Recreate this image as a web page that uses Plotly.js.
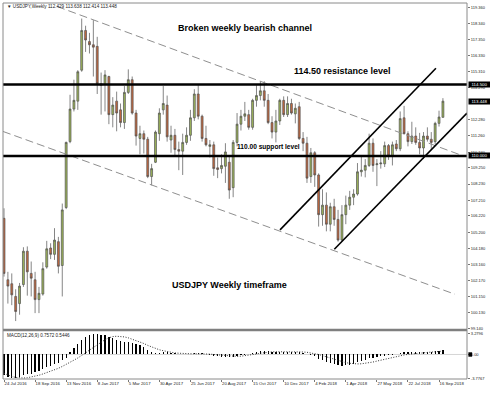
<!DOCTYPE html>
<html>
<head>
<meta charset="utf-8">
<script src="https://cdn.plot.ly/plotly-3.0.1.min.js"></script>
<style>
  html, body { margin: 0; padding: 0; background: #fff; }
  #chart { width: 490px; height: 393px; }
</style>
</head>
<body>
<div id="chart"></div>
<script>
// USDJPY weekly candles, 24 Jul 2016 .. 23 Sep 2018 (one entry per week)
const tickLabels = ['24 Jul 2016', '18 Sep 2016', '13 Nov 2016', '8 Jan 2017', '5 Mar 2017',
  '30 Apr 2017', '25 Jun 2017', '20 Aug 2017', '15 Oct 2017', '10 Dec 2017', '4 Feb 2018',
  '1 Apr 2018', '27 May 2018', '22 Jul 2018', '16 Sep 2018'];
const tickEvery = 8; // one date label every eight weekly bars

const open = [
  106.07, 102.2, 101.95, 101.15, 100.7, 101.9, 104.0, 102.6, 102.2, 100.95,
  101.3, 103.0, 104.2, 103.8, 104.6, 103.1, 106.75, 110.9, 112.95, 113.45,
  115.4, 117.9, 117.2, 117.0, 116.9, 114.55, 114.5, 115.0, 112.6, 113.45,
  112.9, 112.1, 114.0, 114.8, 112.7, 111.1, 111.4, 111.05, 108.7, 109.6,
  111.4, 112.9, 113.2, 111.0, 111.3, 110.4, 110.3, 110.85, 111.3, 112.4,
  113.9, 112.5, 111.1, 110.6, 110.7, 109.25, 109.2, 109.35, 109.6, 108.0,
  110.85, 112.0, 112.5, 112.6, 111.8, 113.5, 113.8, 114.1, 113.5, 112.1,
  111.5, 112.2, 113.5, 112.6, 113.3, 112.65, 113.1, 111.1, 110.8, 108.7,
  110.2, 108.8, 106.3, 106.9, 105.7, 106.8, 106.0, 104.7, 106.3, 106.9,
  107.4, 107.6, 109.0, 109.1, 109.4, 110.8, 109.45, 109.5, 109.5, 110.65,
  110.0, 110.75, 110.45, 112.4, 111.4, 110.9, 111.25, 110.85, 110.5, 111.25,
  111.05, 110.9, 112.05, 112.429];
const high = [
  106.7, 102.7, 102.6, 101.6, 102.0, 104.25, 104.3, 103.35, 102.7, 101.75,
  103.3, 104.65, 104.5, 105.45, 104.9, 107.0, 110.9, 113.85, 114.8, 115.4,
  118.65, 118.2, 117.75, 118.55, 117.5, 115.25, 115.4, 115.05, 113.7, 114.05,
  113.3, 114.4, 115.45, 115.0, 112.9, 111.9, 111.6, 111.2, 109.5, 111.6,
  113.0, 114.4, 113.8, 111.9, 111.7, 110.9, 111.4, 111.8, 112.9, 114.2,
  114.45, 112.6, 111.9, 111.0, 110.9, 109.9, 110.1, 110.8, 110.0, 111.0,
  112.7, 112.9, 113.4, 112.9, 113.6, 114.45, 114.7, 114.7, 113.9, 112.5,
  112.9, 113.6, 113.75, 113.75, 113.6, 113.3, 113.4, 111.5, 111.2, 110.5,
  110.3, 108.9, 107.9, 107.7, 107.05, 107.3, 106.6, 106.9, 107.5, 107.8,
  107.9, 109.55, 110.0, 109.8, 111.4, 111.1, 109.8, 110.3, 110.9, 110.75,
  110.9, 111.0, 112.8, 113.15, 111.55, 112.15, 111.8, 111.45, 111.5, 111.8,
  111.5, 112.15, 112.85, 113.638];
const low = [
  102.4, 100.7, 100.6, 99.6, 100.0, 101.75, 101.2, 101.15, 100.1, 100.1,
  101.2, 102.9, 103.5, 103.45, 102.6, 101.15, 106.65, 110.8, 112.8, 112.9,
  115.3, 116.55, 116.45, 115.0, 113.9, 112.6, 112.8, 112.0, 111.8, 111.55,
  111.8, 111.7, 113.9, 112.6, 110.65, 110.1, 110.15, 108.6, 108.15, 109.55,
  110.95, 112.6, 110.9, 110.2, 110.0, 109.1, 108.8, 110.7, 110.95, 112.2,
  112.3, 110.9, 110.6, 109.9, 108.75, 108.6, 108.9, 108.3, 107.3, 107.4,
  110.6, 111.6, 112.2, 111.65, 111.65, 113.1, 113.5, 113.1, 112.0, 111.1,
  110.85, 111.95, 112.45, 112.45, 112.6, 112.05, 111.0, 110.3, 108.3, 108.3,
  108.05, 105.55, 105.6, 105.25, 105.25, 105.6, 104.6, 104.6, 105.7, 106.6,
  106.9, 107.5, 108.7, 108.65, 109.3, 109.0, 108.1, 109.2, 109.3, 109.75,
  109.4, 110.3, 110.3, 111.35, 110.6, 110.75, 110.7, 110.1, 109.8, 110.9,
  110.4, 110.75, 111.85, 112.414];
const close = [
  102.6, 101.8, 101.25, 100.2, 101.8, 104.0, 102.7, 102.3, 100.95, 101.35,
  102.9, 104.15, 103.8, 104.7, 103.05, 106.6, 110.85, 112.95, 113.5, 115.3,
  117.9, 117.3, 117.0, 116.85, 114.55, 114.45, 115.1, 112.6, 113.2, 112.7,
  112.1, 114.0, 114.8, 112.7, 111.25, 111.4, 111.05, 108.7, 109.2, 111.5,
  112.7, 113.3, 111.2, 111.3, 110.4, 110.3, 110.85, 111.3, 112.4, 113.9,
  112.5, 111.1, 110.7, 110.7, 109.2, 109.15, 109.4, 110.25, 107.85, 110.85,
  112.0, 112.5, 112.65, 111.8, 113.5, 113.8, 114.1, 113.5, 112.1, 111.5,
  112.2, 113.5, 112.6, 113.3, 112.7, 113.0, 111.1, 110.8, 108.6, 110.2,
  108.8, 106.3, 106.9, 105.7, 106.8, 106.0, 104.7, 106.3, 106.9, 107.4,
  107.6, 109.0, 109.1, 109.4, 110.8, 109.4, 109.5, 109.55, 110.65, 110.0,
  110.7, 110.45, 112.35, 111.4, 110.9, 111.25, 110.85, 110.5, 111.25, 111.05,
  110.85, 112.05, 112.45, 113.448];

// MACD(12,26,9): main histogram and signal line
const macdMain = [
  -3.29, -3.6, -3.72, -3.7767, -3.66, -3.3, -3.18, -3.03, -2.85, -2.62,
  -2.3, -1.98, -1.76, -1.5, -1.35, -0.92, -0.48, 0.37, 1.01, 1.6,
  2.28, 2.72, 3.03, 3.24, 3.2796, 3.15, 3.05, 2.78, 2.6, 2.36,
  2.14, 2.04, 2.02, 1.9, 1.7, 1.45, 1.12, 0.7, 0.33, 0.22,
  0.27, 0.37, 0.32, 0.27, 0.16, 0.06, 0.05, 0.07, 0.12, 0.22,
  0.27, 0.17, 0.06, -0.05, -0.16, -0.26, -0.32, -0.36, -0.42, -0.36,
  -0.27, -0.15, -0.05, 0.05, 0.25, 0.45, 0.6, 0.6, 0.5, 0.4,
  0.4, 0.45, 0.45, 0.46, 0.45, 0.45, 0.35, 0.2, 0.05, -0.05,
  -0.3, -0.65, -0.95, -1.2, -1.4, -1.55, -1.75, -1.8, -1.75, -1.6,
  -1.45, -1.2, -1.0, -0.82, -0.6, -0.5, -0.4, -0.3, -0.2, -0.12,
  -0.05, 0.05, 0.28, 0.36, 0.38, 0.4, 0.4, 0.38, 0.42, 0.45,
  0.45, 0.55, 0.63, 0.7572];
const macdSignal = [
  -3.0, -3.3, -3.5, -3.65, -3.75, -3.75, -3.7, -3.6, -3.45, -3.3,
  -3.1, -2.9, -2.7, -2.45, -2.2, -1.9, -1.6, -1.25, -0.9, -0.55,
  -0.2, 0.25, 0.7, 1.15, 1.6, 2.0, 2.35, 2.65, 2.85, 2.9,
  2.9, 2.8, 2.65, 2.45, 2.25, 2.0, 1.75, 1.45, 1.2, 0.95,
  0.75, 0.6, 0.45, 0.35, 0.25, 0.2, 0.15, 0.12, 0.12, 0.12,
  0.13, 0.12, 0.1, 0.06, 0.0, -0.07, -0.14, -0.2, -0.26, -0.3,
  -0.3, -0.27, -0.2, -0.12, -0.03, 0.08, 0.2, 0.3, 0.38, 0.42,
  0.44, 0.45, 0.45, 0.45, 0.45, 0.45, 0.43, 0.4, 0.35, 0.27,
  0.15, 0.0, -0.18, -0.38, -0.58, -0.78, -0.98, -1.15, -1.3, -1.4,
  -1.47, -1.5, -1.48, -1.42, -1.32, -1.2, -1.05, -0.9, -0.75, -0.6,
  -0.45, -0.32, -0.2, -0.08, 0.02, 0.1, 0.18, 0.25, 0.3, 0.35,
  0.39, 0.43, 0.49, 0.5446];

// right-hand price scale labels
const priceTicks = [119.36, 118.34, 117.35, 116.33, 115.31, 114.29, 112.28, 111.26, 110.24,
  109.25, 108.23, 107.21, 106.22, 105.2, 104.18, 103.16, 102.17, 101.15, 100.13, 99.14];
const macdTicks = [3.2796, 0, -3.7767];
const macdTickText = ['3.2796', '0.00', '-3.7767'];

// horizontal levels and drawn trendlines, as [week index, price]
const resistance = 114.50;
const support = 110.00;
const lastPrice = 113.448;
const bearUpper = [[13.65, 119.41], [117.9, 110.03]];
const bearLower = [[-0.26, 111.54], [116.1, 101.29]];
const bullUpper = [[71.06, 105.34], [111.2, 115.52]];
const bullLower = [[85.04, 104.12], [119.2, 112.70]];

const weekIdx = close.map((_, i) => i);
const FONT = 'Liberation Sans, Arial, sans-serif';

function segment(pts, color, width, dash) {
  return {
    type: 'scatter', mode: 'lines', xaxis: 'x', yaxis: 'y',
    x: pts.map(p => p[0]), y: pts.map(p => p[1]),
    line: { color: color, width: width, dash: dash },
    hoverinfo: 'skip'
  };
}

const traces = [
  segment(bearUpper, '#8f8f8f', 1, '8px,4px'),
  segment(bearLower, '#8f8f8f', 1, '8px,4px'),
  {
    type: 'candlestick', xaxis: 'x', yaxis: 'y',
    x: weekIdx, open: open, high: high, low: low, close: close,
    increasing: { fillcolor: '#9db55a', line: { color: '#505050', width: 0.7 } },
    decreasing: { fillcolor: '#c3683f', line: { color: '#505050', width: 0.7 } },
    whiskerwidth: 0, hoverinfo: 'none'
  },
  segment(bullUpper, '#000', 1.6, 'solid'),
  segment(bullLower, '#000', 1.6, 'solid'),
  {
    type: 'bar', xaxis: 'x', yaxis: 'y2',
    x: weekIdx, y: macdMain, width: 0.32,
    marker: { color: '#000', line: { width: 0 } }, hoverinfo: 'none'
  },
  {
    type: 'scatter', mode: 'lines', xaxis: 'x', yaxis: 'y2',
    x: weekIdx, y: macdSignal,
    line: { color: '#333', width: 1, dash: '1px,1.6px' }, hoverinfo: 'none'
  }
];

const tickVals = tickLabels.map((_, k) => k * tickEvery);
const smallFont = { family: FONT, size: 4.3, color: '#222' };
const boldText = (txt, x, y, size) => ({
  xref: 'x', yref: 'y', x: x, y: y, text: txt, showarrow: false,
  font: { family: FONT, size: size, color: '#000', weight: 'bold' },
  xanchor: 'center', yanchor: 'middle'
});
const priceBox = (v) => ({
  xref: 'paper', yref: 'y', x: 1.002, y: v, xanchor: 'left', yanchor: 'middle',
  text: v.toFixed(3), showarrow: false, bgcolor: '#000', borderpad: 0,
  width: 21, height: 5, align: 'center',
  font: { family: FONT, size: 4.4, color: '#fff' }
});

const layout = {
  width: 490, height: 393,
  margin: { l: 3, r: 23, t: 3, b: 14, pad: 0 },
  paper_bgcolor: '#fff', plot_bgcolor: '#fff',
  showlegend: false, boxgap: 0.3, bargap: 0,
  xaxis: {
    anchor: 'y2', range: [-0.26, 119.2],
    tickvals: tickVals, ticktext: tickLabels, tickangle: 0,
    ticks: 'outside', ticklen: 2, tickcolor: '#777', tickwidth: 1,
    ticklabelposition: 'outside right', automargin: false,
    tickfont: smallFont, showgrid: false, zeroline: false, showline: false,
    rangeslider: { visible: false }, fixedrange: true
  },
  yaxis: {
    domain: [0.133, 1], range: [99.10, 119.63], side: 'right', automargin: false,
    tickvals: priceTicks, ticktext: priceTicks.map(v => v.toFixed(3)),
    ticks: 'outside', ticklen: 2, tickcolor: '#777', tickwidth: 1,
    tickfont: { family: FONT, size: 4, color: '#222' },
    showgrid: false, zeroline: false, showline: false, fixedrange: true
  },
  yaxis2: {
    domain: [0, 0.1277], range: [-3.90, 3.742], side: 'right', anchor: 'x', automargin: false,
    tickvals: macdTicks, ticktext: macdTickText,
    ticks: 'outside', ticklen: 2, tickcolor: '#777', tickwidth: 1,
    tickfont: { family: FONT, size: 4, color: '#222' },
    showgrid: false, zeroline: false, showline: false, fixedrange: true
  },
  shapes: [
    { type: 'line', xref: 'paper', yref: 'y', x0: 0, x1: 1, y0: resistance, y1: resistance,
      line: { color: '#000', width: 2.5 } },
    { type: 'line', xref: 'paper', yref: 'y', x0: 0, x1: 1, y0: support, y1: support,
      line: { color: '#000', width: 2.5 } },
    { type: 'line', xref: 'paper', yref: 'y2', x0: 0, x1: 1, y0: 0, y1: 0,
      line: { color: '#bbb', width: 0.6 }, layer: 'below' },
    { type: 'line', xref: 'paper', yref: 'paper', x0: 0, x1: 1, y0: 0.1303, y1: 0.1303,
      line: { color: '#7f7f7f', width: 2.5 } },
    { type: 'rect', xref: 'paper', yref: 'paper', x0: 0, x1: 1, y0: 0, y1: 1,
      line: { color: '#8a8a8a', width: 1 } },
    { type: 'rect', xref: 'paper', yref: 'y2', x0: 1.003, x1: 1.011, y0: -0.35, y1: 0.35,
      fillcolor: '#000', line: { width: 0 } }
  ],
  annotations: [
    boldText('Broken weekly bearish channel', 62.05, 118.04, 9),
    boldText('114.50 resistance level', 87.15, 115.37, 9),
    boldText('110.00 support level', 68.05, 110.56, 6.6),
    boldText('USDJPY Weekly timeframe', 58.1, 101.87, 9),
    {
      xref: 'paper', yref: 'paper', x: 0.004, y: 0.992, xanchor: 'left', yanchor: 'middle',
      text: '▼ USDJPY,Weekly 112.429 113.638 112.414 113.448', showarrow: false,
      font: { family: FONT, size: 4.6, color: '#222' }
    },
    {
      xref: 'paper', yref: 'paper', x: 0.004, y: 0.1144, xanchor: 'left', yanchor: 'middle',
      text: 'MACD(12,26,9) 0.7572 0.5446', showarrow: false,
      font: { family: FONT, size: 4.6, color: '#222' }
    },
    priceBox(resistance),
    priceBox(lastPrice),
    priceBox(support)
  ]
};

Plotly.newPlot('chart', traces, layout, { staticPlot: true, displayModeBar: false });
</script>
</body>
</html>
